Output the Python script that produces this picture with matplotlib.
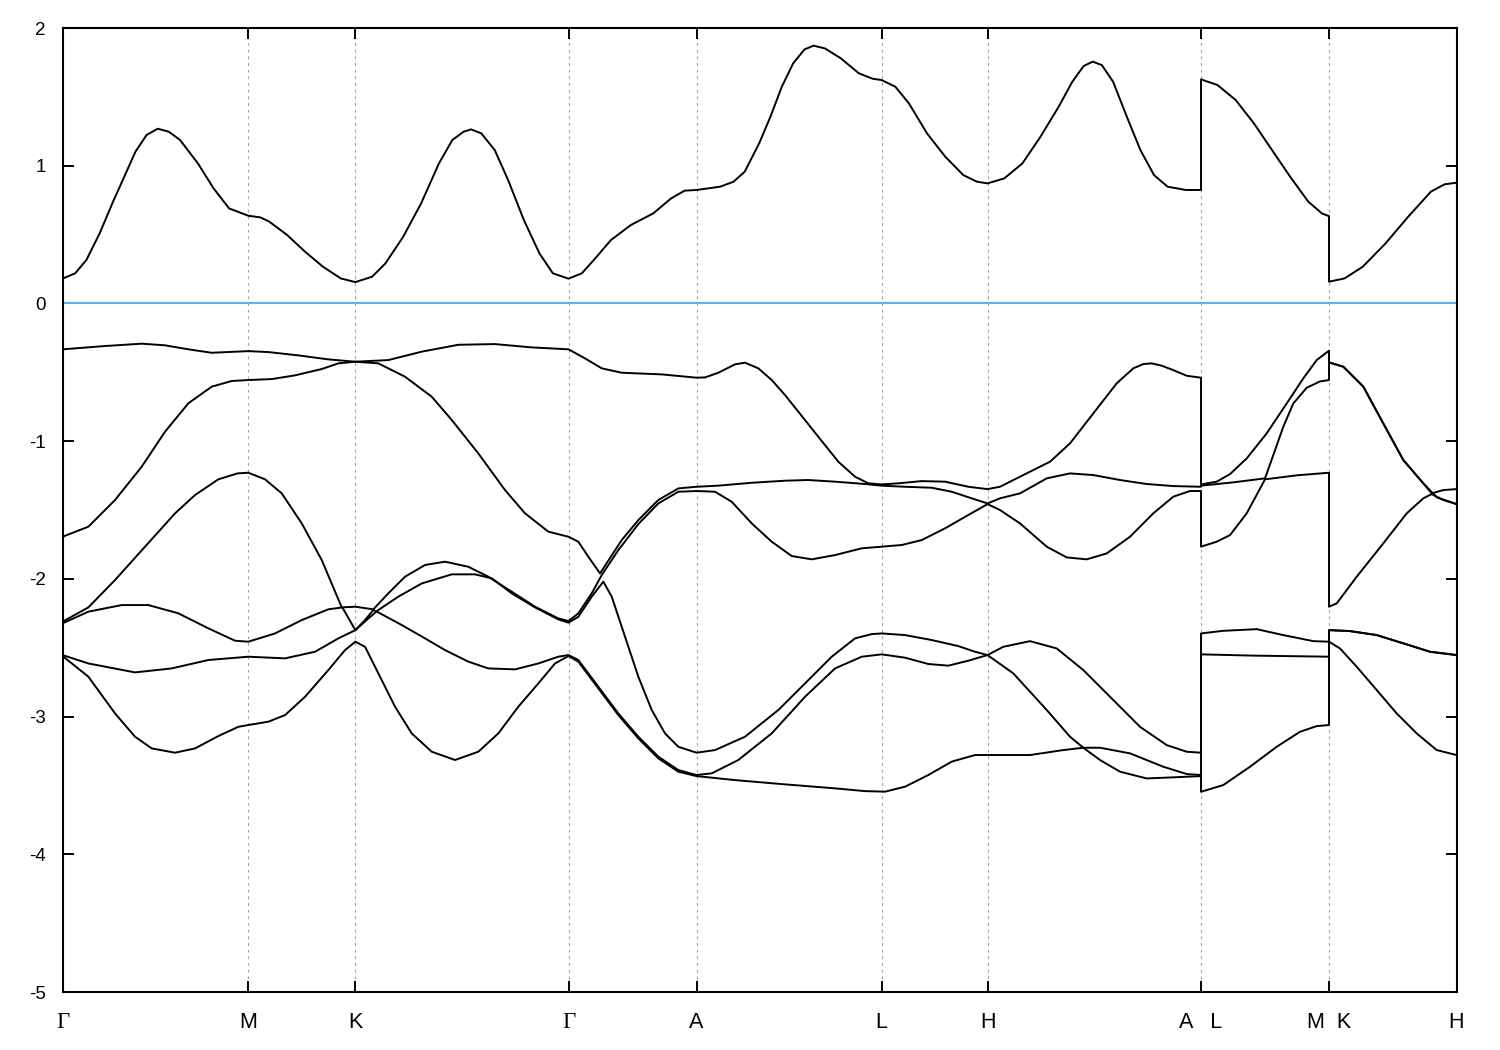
import numpy as np
import matplotlib
matplotlib.use("Agg")
import matplotlib.pyplot as plt

plt.rcParams["font.family"] = ["Liberation Sans", "DejaVu Sans"]
plt.rcParams["axes.unicode_minus"] = False

# high-symmetry points along the k-path (path distance, arbitrary units)
k_ticks = [0, 185.8, 292.8, 506, 634, 819.2, 925, 1138.5, 1266.5, 1394]
k_labels = ["Γ", "M", "K", "Γ", "A", "L", "H", "A   L", "M  K", "H"]

# bands as (k, E) pairs; a repeated k marks a jump at A|L and M|K
cb = [(0, 0.18), (12.6, 0.219), (23.8, 0.315), (37.1, 0.509), (50.5, 0.739),
      (61.7, 0.920), (72.9, 1.102), (84.0, 1.223), (95.2, 1.269), (106.3, 1.247),
      (117.5, 1.187), (135.4, 1.017), (151, 0.836), (166.6, 0.690), (185.8, 0.637),
      (197.9, 0.625), (206.8, 0.594), (224.6, 0.497), (242.5, 0.376), (260.4, 0.267),
      (278.2, 0.182), (292.8, 0.155), (309.5, 0.194), (322.9, 0.291), (340.7, 0.485),
      (358.6, 0.727), (376.4, 1.017), (389.8, 1.187), (401, 1.247), (408.6, 1.264),
      (418.8, 1.235), (432.2, 1.114), (445.6, 0.896), (461.3, 0.606), (476.9, 0.364),
      (490.3, 0.219), (506, 0.18), (519.3, 0.219), (532.7, 0.327), (548.3, 0.460),
      (568.4, 0.57), (590.7, 0.654), (608.6, 0.763), (622, 0.819), (634, 0.824),
      (657.7, 0.848), (671, 0.884), (682.2, 0.957), (696.6, 1.162), (707.9, 1.356),
      (719.3, 1.574), (730.6, 1.743), (742, 1.845), (751.1, 1.872), (762.4, 1.852),
      (778.3, 1.780), (796.4, 1.671), (810.1, 1.632), (819.2, 1.622), (832.8, 1.574),
      (846.4, 1.453), (864.5, 1.235), (882.7, 1.066), (900.8, 0.932), (914.5, 0.884),
      (925, 0.872), (941.7, 0.908), (959.9, 1.017), (978, 1.211), (996.2, 1.429),
      (1009.8, 1.610), (1021.1, 1.724), (1030.2, 1.756), (1039.3, 1.731),
      (1050.6, 1.610), (1064.3, 1.356), (1077.9, 1.114), (1091.5, 0.932),
      (1105.1, 0.848), (1123.3, 0.824), (1138.5, 0.824), (1138.5, 1.627),
      (1155, 1.586), (1173.2, 1.477), (1191.4, 1.308), (1209.5, 1.114), (1227.7, 0.920),
      (1245.8, 0.739), (1259.4, 0.654), (1266.5, 0.634), (1266.5, 0.158),
      (1282.1, 0.182), (1300.3, 0.267), (1323, 0.436), (1345.7, 0.630), (1368.4, 0.812),
      (1382, 0.865), (1394, 0.877)]

v1 = [(0, -0.333), (42.5, -0.309), (79.2, -0.292), (102.5, -0.304), (125.8, -0.333),
      (149.2, -0.358), (185.8, -0.346), (205.8, -0.353), (235.8, -0.377), (265.8, -0.406),
      (292.8, -0.423), (325.8, -0.411), (359.2, -0.350), (395.8, -0.300), (432.5, -0.295),
      (469.2, -0.319), (506, -0.333), (522.5, -0.399), (539.2, -0.471), (559.2, -0.503),
      (599.2, -0.515), (634, -0.539), (642.5, -0.537), (655.8, -0.503), (672.5, -0.442),
      (682.5, -0.430), (695.8, -0.471), (709.2, -0.556), (722.5, -0.665), (735.8, -0.786),
      (755.8, -0.968), (775.8, -1.149), (792.5, -1.258), (805.8, -1.306), (819.2, -1.314),
      (835.8, -1.306), (859.2, -1.290), (882.5, -1.294), (905.8, -1.331), (925, -1.348),
      (937.5, -1.331), (957.5, -1.258), (987.5, -1.149), (1007.5, -1.016),
      (1030.8, -0.798), (1054.2, -0.580), (1070.8, -0.471), (1080.8, -0.440),
      (1089.2, -0.435), (1099.2, -0.452), (1110.8, -0.484), (1124.2, -0.525),
      (1138.5, -0.539), (1138.5, -1.314), (1154.2, -1.294), (1167.5, -1.239),
      (1184.2, -1.125), (1204.2, -0.943), (1224.2, -0.726), (1240.8, -0.544),
      (1254.2, -0.411), (1266.5, -0.343), (1266.5, -0.428), (1280.8, -0.459),
      (1300.8, -0.604), (1320.8, -0.871), (1340.8, -1.137), (1360.8, -1.306),
      (1369.2, -1.379), (1380.8, -1.355), (1394, -1.348)]

v2 = [(0, -1.694), (25.8, -1.621), (52.5, -1.427), (79.2, -1.185), (102.5, -0.931),
      (125.8, -0.725), (149.2, -0.604), (169.2, -0.563), (185.8, -0.556), (209.2, -0.549),
      (232.5, -0.522), (259.2, -0.476), (275.8, -0.435), (292.8, -0.423), (315.8, -0.435),
      (342.5, -0.532), (369.2, -0.677), (389.2, -0.846), (415.8, -1.089), (442.5, -1.355),
      (462.5, -1.524), (485.8, -1.657), (506, -1.694), (515.8, -1.730), (525.8, -1.839),
      (537.5, -1.960), (559.2, -1.718), (575.8, -1.573), (595.8, -1.427), (615.8, -1.343),
      (634, -1.331), (655.8, -1.323), (689.2, -1.302), (722.5, -1.287), (745.8, -1.282),
      (772.5, -1.294), (802.5, -1.311), (819.2, -1.323), (842.5, -1.331), (869.2, -1.338),
      (889.2, -1.367), (909.2, -1.415), (925, -1.452), (937.5, -1.415), (957.5, -1.379),
      (984.2, -1.270), (1007.5, -1.234), (1030.8, -1.246), (1057.5, -1.282),
      (1084.2, -1.311), (1110.8, -1.326), (1138.5, -1.331), (1138.5, -1.323),
      (1170.8, -1.299), (1202.5, -1.270), (1210.8, -1.101), (1220.8, -0.895),
      (1230.8, -0.726), (1244.2, -0.612), (1257.5, -0.566), (1266.5, -0.556),
      (1266.5, -0.428), (1280.8, -0.459), (1300.8, -0.604), (1320.8, -0.871),
      (1340.8, -1.137), (1360.8, -1.306), (1374.2, -1.408), (1394, -1.456)]

v3 = [(0, -2.311), (25.8, -2.207), (52.5, -2.008), (82.5, -1.766), (112.5, -1.524),
      (132.5, -1.391), (155.8, -1.277), (175, -1.234), (185.8, -1.229), (202.5, -1.277),
      (219.2, -1.379), (239.2, -1.597), (259.2, -1.863), (279.2, -2.207), (292.8, -2.202),
      (310.8, -2.221), (325.8, -2.105), (342.5, -1.984), (362.5, -1.899), (382.5, -1.875),
      (405.8, -1.912), (425.8, -1.984), (449.2, -2.093), (472.5, -2.202), (495.8, -2.287),
      (506, -2.306), (515.8, -2.250), (529.2, -2.105), (539.2, -1.972), (555.8, -1.791),
      (575.8, -1.602), (595.8, -1.452), (615.8, -1.367), (634, -1.362), (652.5, -1.367),
      (669.2, -1.440), (689.2, -1.597), (709.2, -1.730), (729.2, -1.834), (749.2, -1.858),
      (772.5, -1.827), (799.2, -1.778), (819.2, -1.766), (839.2, -1.754), (859.2, -1.718),
      (882.5, -1.633), (905.8, -1.536), (925, -1.457), (937.5, -1.500), (957.5, -1.597),
      (984.2, -1.766), (1004.2, -1.844), (1024.2, -1.858), (1044.2, -1.815),
      (1067.5, -1.694), (1090.8, -1.524), (1110.8, -1.403), (1127.5, -1.362),
      (1138.5, -1.362), (1138.5, -1.766), (1154.2, -1.730), (1167.5, -1.682),
      (1184.2, -1.524), (1202.5, -1.277), (1234.2, -1.248), (1266.5, -1.229),
      (1266.5, -2.202), (1274.2, -2.178), (1294.2, -1.984), (1320.8, -1.742),
      (1344.2, -1.524), (1360.8, -1.415), (1369.2, -1.384), (1380.8, -1.427), (1394, -1.457)]

v4 = [(0, -2.323), (25.8, -2.238), (59.2, -2.190), (85.8, -2.190), (115.8, -2.250),
      (145.8, -2.359), (172.5, -2.449), (185.8, -2.456), (212.5, -2.396), (239.2, -2.299),
      (265.8, -2.221), (279.8, -2.207), (292.8, -2.372), (305.8, -2.287), (315.8, -2.226),
      (335.8, -2.129), (359.2, -2.033), (389.2, -1.967), (412.5, -1.967), (429.2, -1.996),
      (449.2, -2.105), (472.5, -2.207), (495.8, -2.294), (506, -2.318), (515.8, -2.275),
      (529.2, -2.129), (540.8, -2.020), (549.2, -2.129), (562.5, -2.420), (575.8, -2.710),
      (589.2, -2.952), (602.5, -3.122), (615.8, -3.219), (634, -3.262), (652.5, -3.243),
      (682.5, -3.146), (715.8, -2.952), (742.5, -2.759), (769.2, -2.565), (792.5, -2.432),
      (809.2, -2.401), (819.2, -2.396), (842.5, -2.408), (869.2, -2.444), (895.8, -2.488),
      (912.5, -2.529), (925, -2.553), (940.8, -2.493), (967.5, -2.452), (994.2, -2.505),
      (1020.8, -2.662), (1050.8, -2.880), (1077.5, -3.074), (1104.2, -3.207),
      (1124.2, -3.255), (1138.5, -3.262), (1138.5, -2.396), (1160.8, -2.377),
      (1194.2, -2.365), (1220.8, -2.408), (1250.8, -2.452), (1266.5, -2.456),
      (1266.5, -2.372), (1287.5, -2.379), (1314.2, -2.408), (1340.8, -2.468),
      (1367.5, -2.529), (1394, -2.553)]

v5 = [(0, -2.553), (25.8, -2.614), (72.5, -2.679), (109.2, -2.650), (145.8, -2.589),
      (185.8, -2.565), (222.5, -2.577), (252.5, -2.529), (275.8, -2.432), (292.8, -2.372),
      (302.5, -2.299), (310.8, -2.226), (317.5, -2.250), (339.2, -2.335), (362.5, -2.432),
      (382.5, -2.517), (405.8, -2.601), (425.8, -2.650), (452.5, -2.657), (475.8, -2.614),
      (495.8, -2.565), (506, -2.553), (515.8, -2.589), (535.8, -2.783), (555.8, -2.977),
      (575.8, -3.146), (595.8, -3.291), (615.8, -3.388), (634, -3.424), (649.2, -3.412),
      (675.8, -3.315), (709.2, -3.122), (742.5, -2.856), (772.5, -2.650), (799.2, -2.565),
      (819.2, -2.548), (842.5, -2.572), (865.8, -2.618), (885.8, -2.630), (905.8, -2.594),
      (925, -2.553), (950.8, -2.686), (984.2, -2.952), (1007.5, -3.146), (1020.8, -3.226),
      (1037.5, -3.226), (1067.5, -3.267), (1100.8, -3.364), (1124.2, -3.417),
      (1138.5, -3.424), (1138.5, -2.548), (1190, -2.557), (1266.5, -2.565),
      (1266.5, -2.372), (1287.5, -2.379), (1314.2, -2.408), (1340.8, -2.468),
      (1367.5, -2.529), (1394, -2.553)]

v6 = [(0, -2.560), (25.8, -2.710), (52.5, -2.977), (72.5, -3.146), (89.2, -3.231),
      (112.5, -3.262), (132.5, -3.231), (155.8, -3.141), (175.8, -3.074), (185.8, -3.061),
      (205.8, -3.037), (222.5, -2.989), (242.5, -2.856), (265.8, -2.662), (282.5, -2.517),
      (292.8, -2.456), (302.5, -2.493), (315.8, -2.686), (332.5, -2.928), (349.2, -3.122),
      (369.2, -3.255), (392.5, -3.315), (415.8, -3.255), (435.8, -3.122), (455.8, -2.928),
      (475.8, -2.759), (492.5, -2.614), (506, -2.560), (515.8, -2.601), (535.8, -2.795),
      (555.8, -2.989), (575.8, -3.158), (595.8, -3.303), (615.8, -3.400), (634, -3.432),
      (672.5, -3.461), (722.5, -3.492), (772.5, -3.521), (802.5, -3.541), (822.5, -3.545),
      (842.5, -3.509), (865.8, -3.424), (889.2, -3.327), (912.5, -3.279), (925, -3.279),
      (967.5, -3.279), (1000.8, -3.243), (1020.8, -3.226), (1037.5, -3.315),
      (1057.5, -3.400), (1084.2, -3.449), (1110.8, -3.441), (1138.5, -3.432),
      (1138.5, -3.546), (1160.8, -3.497), (1187.5, -3.364), (1214.2, -3.219),
      (1237.5, -3.110), (1254.2, -3.069), (1266.5, -3.061), (1266.5, -2.456),
      (1277.5, -2.505), (1294.2, -2.638), (1314.2, -2.807), (1334.2, -2.977),
      (1354.2, -3.122), (1374.2, -3.243), (1394, -3.279)]

bands = [cb, v1, v2, v3, v4, v5, v6]

fig = plt.figure(figsize=(15, 10.5), dpi=100)
ax = fig.add_axes([0.0417, 0.0552, 0.9293, 0.9181])

for kt in k_ticks[1:-1]:
    ax.axvline(kt, color="#a0a0a0", lw=0.8, ls=(0, (2.5, 3.5)), zorder=1)

ax.axhline(0, color="#56b4e9", lw=1.5, zorder=2)

for b in bands:
    k, e = np.array(b).T
    ax.plot(k, e, color="black", lw=1.4, zorder=3, solid_joinstyle="round")

ax.set_xlim(k_ticks[0], k_ticks[-1])
ax.set_ylim(-5, 2)
ax.set_yticks(range(-5, 3))
ax.set_xticks(k_ticks)
ax.set_xticklabels(k_labels)
ax.tick_params(direction="in", length=8, width=1.4, top=True, right=True)
ax.tick_params(axis="x", labelsize=15.5, pad=26)
ax.tick_params(axis="y", labelsize=13.5, pad=12)
# x labels sit on a common baseline, so the serif Gamma lines up with the rest
for lab in ax.get_xticklabels():
    lab.set_verticalalignment("baseline")
    if lab.get_text() == "Γ":
        lab.set_fontfamily(["Liberation Serif", "DejaVu Serif"])
        lab.set_fontsize(16.5)
for sp in ax.spines.values():
    sp.set_linewidth(1.5)

fig.savefig("out.png", dpi=100)
